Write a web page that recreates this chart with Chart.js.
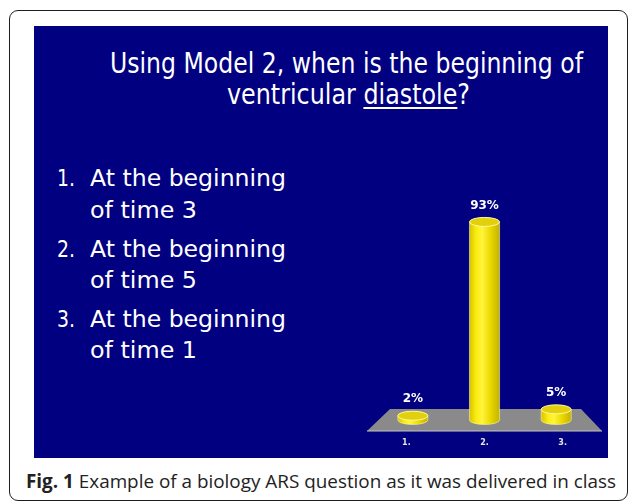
<!DOCTYPE html>
<html>
<head>
<meta charset="utf-8">
<script src="https://cdn.jsdelivr.net/npm/chart.js@4"></script>
<style>
  html, body { margin: 0; padding: 0; background: #fff; }
  body { width: 629px; height: 502px; position: relative; overflow: hidden; }
  #frame { position: absolute; left: 9px; top: 10px; width: 619px; height: 491px;
           box-sizing: border-box; border: 1.5px solid #1e1e1e; border-radius: 9px; }
  #slide { position: absolute; left: 34px; top: 26px; width: 574px; height: 432px; background: #000080; }
  .t { position: absolute; white-space: nowrap; line-height: 1; transform-origin: 0 0; }
  #chart { position: absolute; left: 360px; top: 180px; }
  u { text-decoration-thickness: 1.5px; text-underline-offset: 3px; }
</style>
</head>
<body>
<div id="frame"></div>
<div id="slide"></div>
<canvas id="chart" width="250" height="278"></canvas>
<script>
const categories = ['1.', '2.', '3.']
const percents = [2, 93, 5]
const percentLabels = ['2%', '93%', '5%']

const titleLines = ['Using Model 2, when is the beginning of', 'ventricular <u>diastole</u>?']
const answers = [['1.', 'At the beginning', 'of time 3'], ['2.', 'At the beginning', 'of time 5'], ['3.', 'At the beginning', 'of time 1']]
const caption = '<b>Fig. 1</b> Example of a biology ARS question as it was delivered in class'

// put a line of text with its baseline at y, squeezed to width w
function place(html, x, y, size, w, family, k, color){
  let d = document.createElement('div')
  d.className = 't'
  d.innerHTML = html
  d.style.left = x + 'px'
  d.style.top = (y - k * size) + 'px'
  d.style.fontSize = size + 'px'
  d.style.fontFamily = family
  d.style.color = color
  document.body.appendChild(d)
  if (w) {
    let nat = d.getBoundingClientRect().width
    d.style.transform = 'scaleX(' + (w / nat) + ')'
  }
  return d
}

const slideFont = '"DejaVu Sans", Verdana, sans-serif'
place(titleLines[0], 110, 74, 29, 473, slideFont, 0.846, '#fff')
place(titleLines[1], 227, 105, 29, 243, slideFont, 0.846, '#fff')

let base = [[186, 218], [257, 288], [327, 358]]
answers.forEach((a, i) => {
  place(a[0], 57, base[i][0], 23, 18, slideFont, 0.846, '#fff')
  place(a[1], 90, base[i][0], 23, 196, slideFont, 0.846, '#fff')
  place(a[2], 90, base[i][1], 23, 107, slideFont, 0.846, '#fff')
})

place(caption, 26, 489, 19, 590, '"Open Sans", sans-serif', 0.888, '#222')

const floorPlugin = {
  id: 'floor',
  beforeDatasetsDraw(chart){
    let {ctx, chartArea: a} = chart
    ctx.save()
    ctx.beginPath()
    ctx.moveTo(a.left - 10, a.bottom + 11)
    ctx.lineTo(a.left + 13, a.bottom - 11)
    ctx.lineTo(a.right - 11, a.bottom - 11)
    ctx.lineTo(a.right + 10, a.bottom + 11)
    ctx.closePath()
    ctx.fillStyle = '#8a8a8a'
    ctx.fill()
    ctx.beginPath()
    ctx.moveTo(a.left - 10, a.bottom + 11)
    ctx.lineTo(a.right + 10, a.bottom + 11)
    ctx.strokeStyle = '#c4c4c4'
    ctx.lineWidth = 1.2
    ctx.stroke()
    ctx.restore()
  }
}

const cylPlugin = {
  id: 'cyl',
  afterDatasetsDraw(chart){
    let ctx = chart.ctx
    let a = chart.chartArea
    let mid = (a.left + a.right) / 2
    let meta = chart.getDatasetMeta(0)
    ctx.save()
    meta.data.forEach((bar, i) => {
      let x = bar.x, top = bar.y, bot = bar.base
      let rx = bar.width / 2, ry = 4.5
      let g = ctx.createLinearGradient(x - rx, 0, x + rx, 0)
      g.addColorStop(0, '#d6c400')
      g.addColorStop(0.22, '#fbec10')
      g.addColorStop(0.42, '#fff53c')
      g.addColorStop(0.7, '#e9d800')
      g.addColorStop(1, '#c4b200')
      ctx.beginPath()
      ctx.moveTo(x - rx, top)
      ctx.lineTo(x - rx, bot)
      ctx.ellipse(x, bot, rx, ry, 0, Math.PI, 0, true)
      ctx.lineTo(x + rx, top)
      ctx.closePath()
      ctx.fillStyle = g
      ctx.fill()
      ctx.strokeStyle = 'rgba(255,250,170,0.7)'
      ctx.lineWidth = 0.8
      ctx.stroke()
      ctx.beginPath()
      ctx.ellipse(x, top, rx, ry, 0, 0, Math.PI * 2)
      ctx.fillStyle = '#e2d00c'
      ctx.fill()
      ctx.strokeStyle = '#fff6a0'
      ctx.lineWidth = 1
      ctx.stroke()

      ctx.fillStyle = '#fff'
      ctx.font = 'bold 12px "DejaVu Sans", sans-serif'
      ctx.textAlign = 'center'
      ctx.textBaseline = 'middle'
      ctx.fillText(percentLabels[i], x, top - 16.5)

      // category labels spread a little for the 3d look
      ctx.fillStyle = '#e4e4e4'
      ctx.font = 'bold 8px "DejaVu Sans", sans-serif'
      ctx.fillText(categories[i], mid + (x - mid) * 1.09, a.bottom + 23)
    })
    ctx.restore()
  }
}

new Chart(document.getElementById('chart'), {
  type: 'bar',
  data: {
    labels: categories,
    datasets: [{
      data: percents,
      backgroundColor: 'rgba(0,0,0,0)',
      barPercentage: 0.42,
      categoryPercentage: 1
    }]
  },
  options: {
    responsive: false,
    animation: false,
    devicePixelRatio: 1,
    layout: { padding: { left: 17, right: 18, top: 27, bottom: 38 } },
    plugins: { legend: { display: false }, tooltip: { enabled: false } },
    scales: {
      x: { display: false },
      y: { display: false, min: 0, max: 100 }
    }
  },
  plugins: [floorPlugin, cylPlugin]
})
</script>
</body>
</html>
